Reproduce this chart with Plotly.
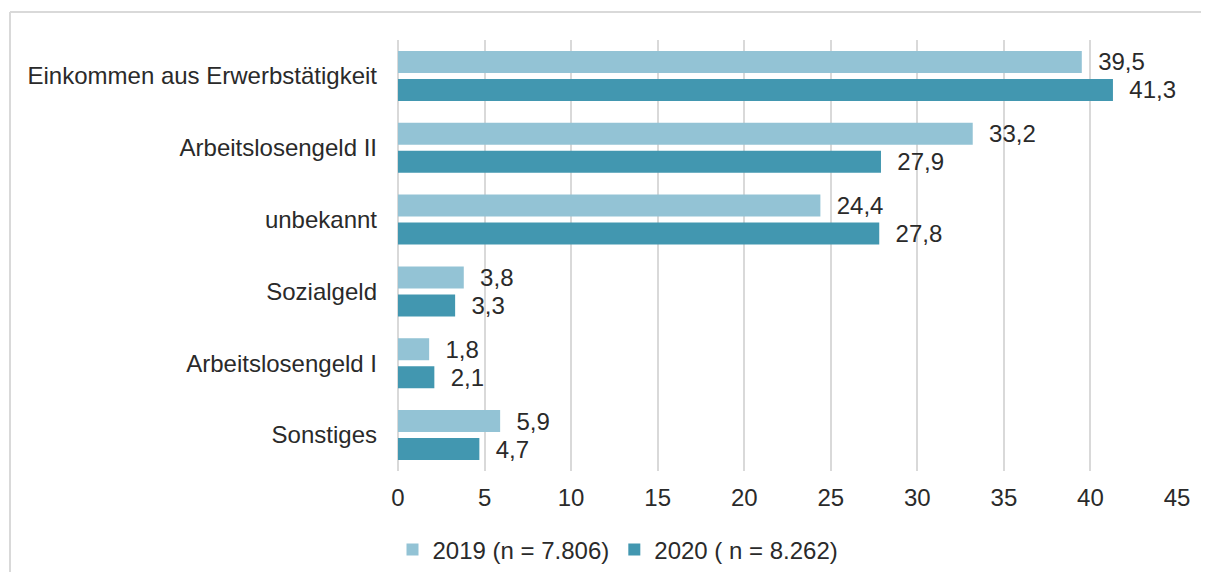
import plotly.graph_objects as go

categories = ["Einkommen aus Erwerbstätigkeit", "Arbeitslosengeld II", "unbekannt",
              "Sozialgeld", "Arbeitslosengeld I", "Sonstiges"]
values_2019 = [39.5, 33.2, 24.4, 3.8, 1.8, 5.9]
values_2020 = [41.3, 27.9, 27.8, 3.3, 2.1, 4.7]
series_names = ["2019 (n = 7.806)", "2020 ( n = 8.262)"]
x_ticks = [0, 5, 10, 15, 20, 25, 30, 35, 40, 45]

colors = ["#93c3d5", "#4297b0"]
font_color = "#2a2a2a"
grid_color = "#d9d9d9"

# page body has an 8px margin on every side: keep the figure inside the
# window (no scrollbars) and place everything in page coordinates
OFF = 8
FIG_W, FIG_H = 1209 - 2 * OFF, 580 - 2 * OFF
PLOT_L, PLOT_R, PLOT_T, PLOT_B = 398, 1177, 40, 471
PW, PH = PLOT_R - PLOT_L, PLOT_B - PLOT_T


def de_label(v):
	# German decimal comma
	return "\u00a0\u00a0" + f"{v:.1f}".replace(".", ",")


fig = go.Figure()
for name, vals, col in zip(series_names, [values_2019, values_2020], colors):
	fig.add_trace(
		go.Bar(
			y=categories,
			x=vals,
			name=name,
			orientation="h",
			marker=dict(color=col, line=dict(width=0)),
			text=[de_label(v) for v in vals],
			textposition="outside",
			constraintext="none",
			cliponaxis=False,
			textfont=dict(size=24, color=font_color),
			hoverinfo="skip",
		)
	)

fig.update_layout(
	width=FIG_W,
	height=FIG_H,
	barmode="group",
	bargap=0.22,
	bargroupgap=0.214,
	paper_bgcolor="white",
	plot_bgcolor="white",
	font=dict(family="Liberation Sans, Arial, sans-serif", size=24, color=font_color),
	margin=dict(l=PLOT_L - OFF, r=FIG_W - (PLOT_R - OFF),
	            t=PLOT_T - OFF, b=FIG_H - (PLOT_B - OFF)),
	showlegend=True,
	legend=dict(
		orientation="h",
		xref="container",
		yref="container",
		x=(618 - OFF) / FIG_W,
		y=1 - (550 - OFF) / FIG_H,
		xanchor="center",
		yanchor="middle",
		font=dict(size=24, color=font_color),
		itemwidth=30,
		traceorder="normal",
	),
	shapes=[
		# outer chart frame (left and top edges visible)
		dict(
			type="line", xref="paper", yref="paper",
			x0=(10 - PLOT_L) / PW, x1=(10 - PLOT_L) / PW,
			y0=(PLOT_B - 620) / PH, y1=(PLOT_B - 12) / PH,
			line=dict(color=grid_color, width=2), layer="below",
		),
		dict(
			type="line", xref="paper", yref="paper",
			x0=(10 - PLOT_L) / PW, x1=(1260 - PLOT_L) / PW,
			y0=(PLOT_B - 12) / PH, y1=(PLOT_B - 12) / PH,
			line=dict(color=grid_color, width=2), layer="below",
		),
	],
)

fig.update_xaxes(
	range=[0, 45],
	tickvals=x_ticks,
	ticktext=[str(t) for t in x_ticks],
	showgrid=True,
	gridcolor=grid_color,
	gridwidth=2,
	zeroline=True,
	zerolinecolor=grid_color,
	zerolinewidth=2,
	showline=False,
	ticks="",
	ticklabelstandoff=10,
	fixedrange=True,
)
fig.update_yaxes(
	autorange="reversed",
	showgrid=False,
	showline=False,
	ticks="",
	ticklabelstandoff=20,
	fixedrange=True,
)

fig.write_html("out.html")
